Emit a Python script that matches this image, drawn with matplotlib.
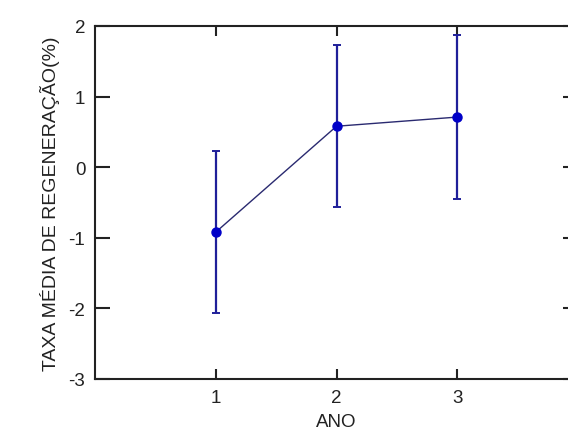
import matplotlib
matplotlib.use("Agg")
import matplotlib.pyplot as plt

# data
anos = [1, 2, 3]
taxa_media = [-0.92, 0.58, 0.71]
erro = [1.15, 1.15, 1.16]
xticks = [1, 2, 3]
yticks = [-3, -2, -1, 0, 1, 2]

plt.rcParams["font.family"] = ["Liberation Sans", "DejaVu Sans"]

fig = plt.figure(figsize=(5.68, 4.31), dpi=100)
# axes runs past the right edge, as in the cropped original
ax = fig.add_axes([95 / 568, 51 / 431, 483 / 568, 353 / 431])

ax.plot(anos, taxa_media, color="#2a2a70", linewidth=1.0, zorder=2)
ax.errorbar(anos, taxa_media, yerr=erro, fmt="none", ecolor="#1f1f99",
            elinewidth=1.6, capsize=3, capthick=1.4, zorder=3)
ax.plot(anos, taxa_media, "o", color="#0000c8", markersize=6.5, zorder=4)

ax.set_xlim(0, 4)
ax.set_ylim(-3, 2)
ax.set_xticks(xticks)
ax.set_yticks(yticks)
ax.set_xticklabels([str(t) for t in xticks])
ax.set_yticklabels([str(t) for t in yticks])

ax.tick_params(direction="in", top=True, right=True, labelsize=13.5,
               width=1.5, colors="#222222")
ax.tick_params(axis="y", length=11, pad=7)
ax.tick_params(axis="x", length=7.5, pad=7)
for s in ax.spines.values():
    s.set_linewidth(1.5)
    s.set_color("#222222")
ax.spines["right"].set_visible(False)  # cut off in the original

ax.set_xlabel("ANO", fontsize=13.5, labelpad=5, color="#222222")
ax.set_ylabel("TAXA MÉDIA DE REGENERAÇÃO(%)", fontsize=14, labelpad=6,
              color="#222222")

fig.savefig("out.png", dpi=100)
